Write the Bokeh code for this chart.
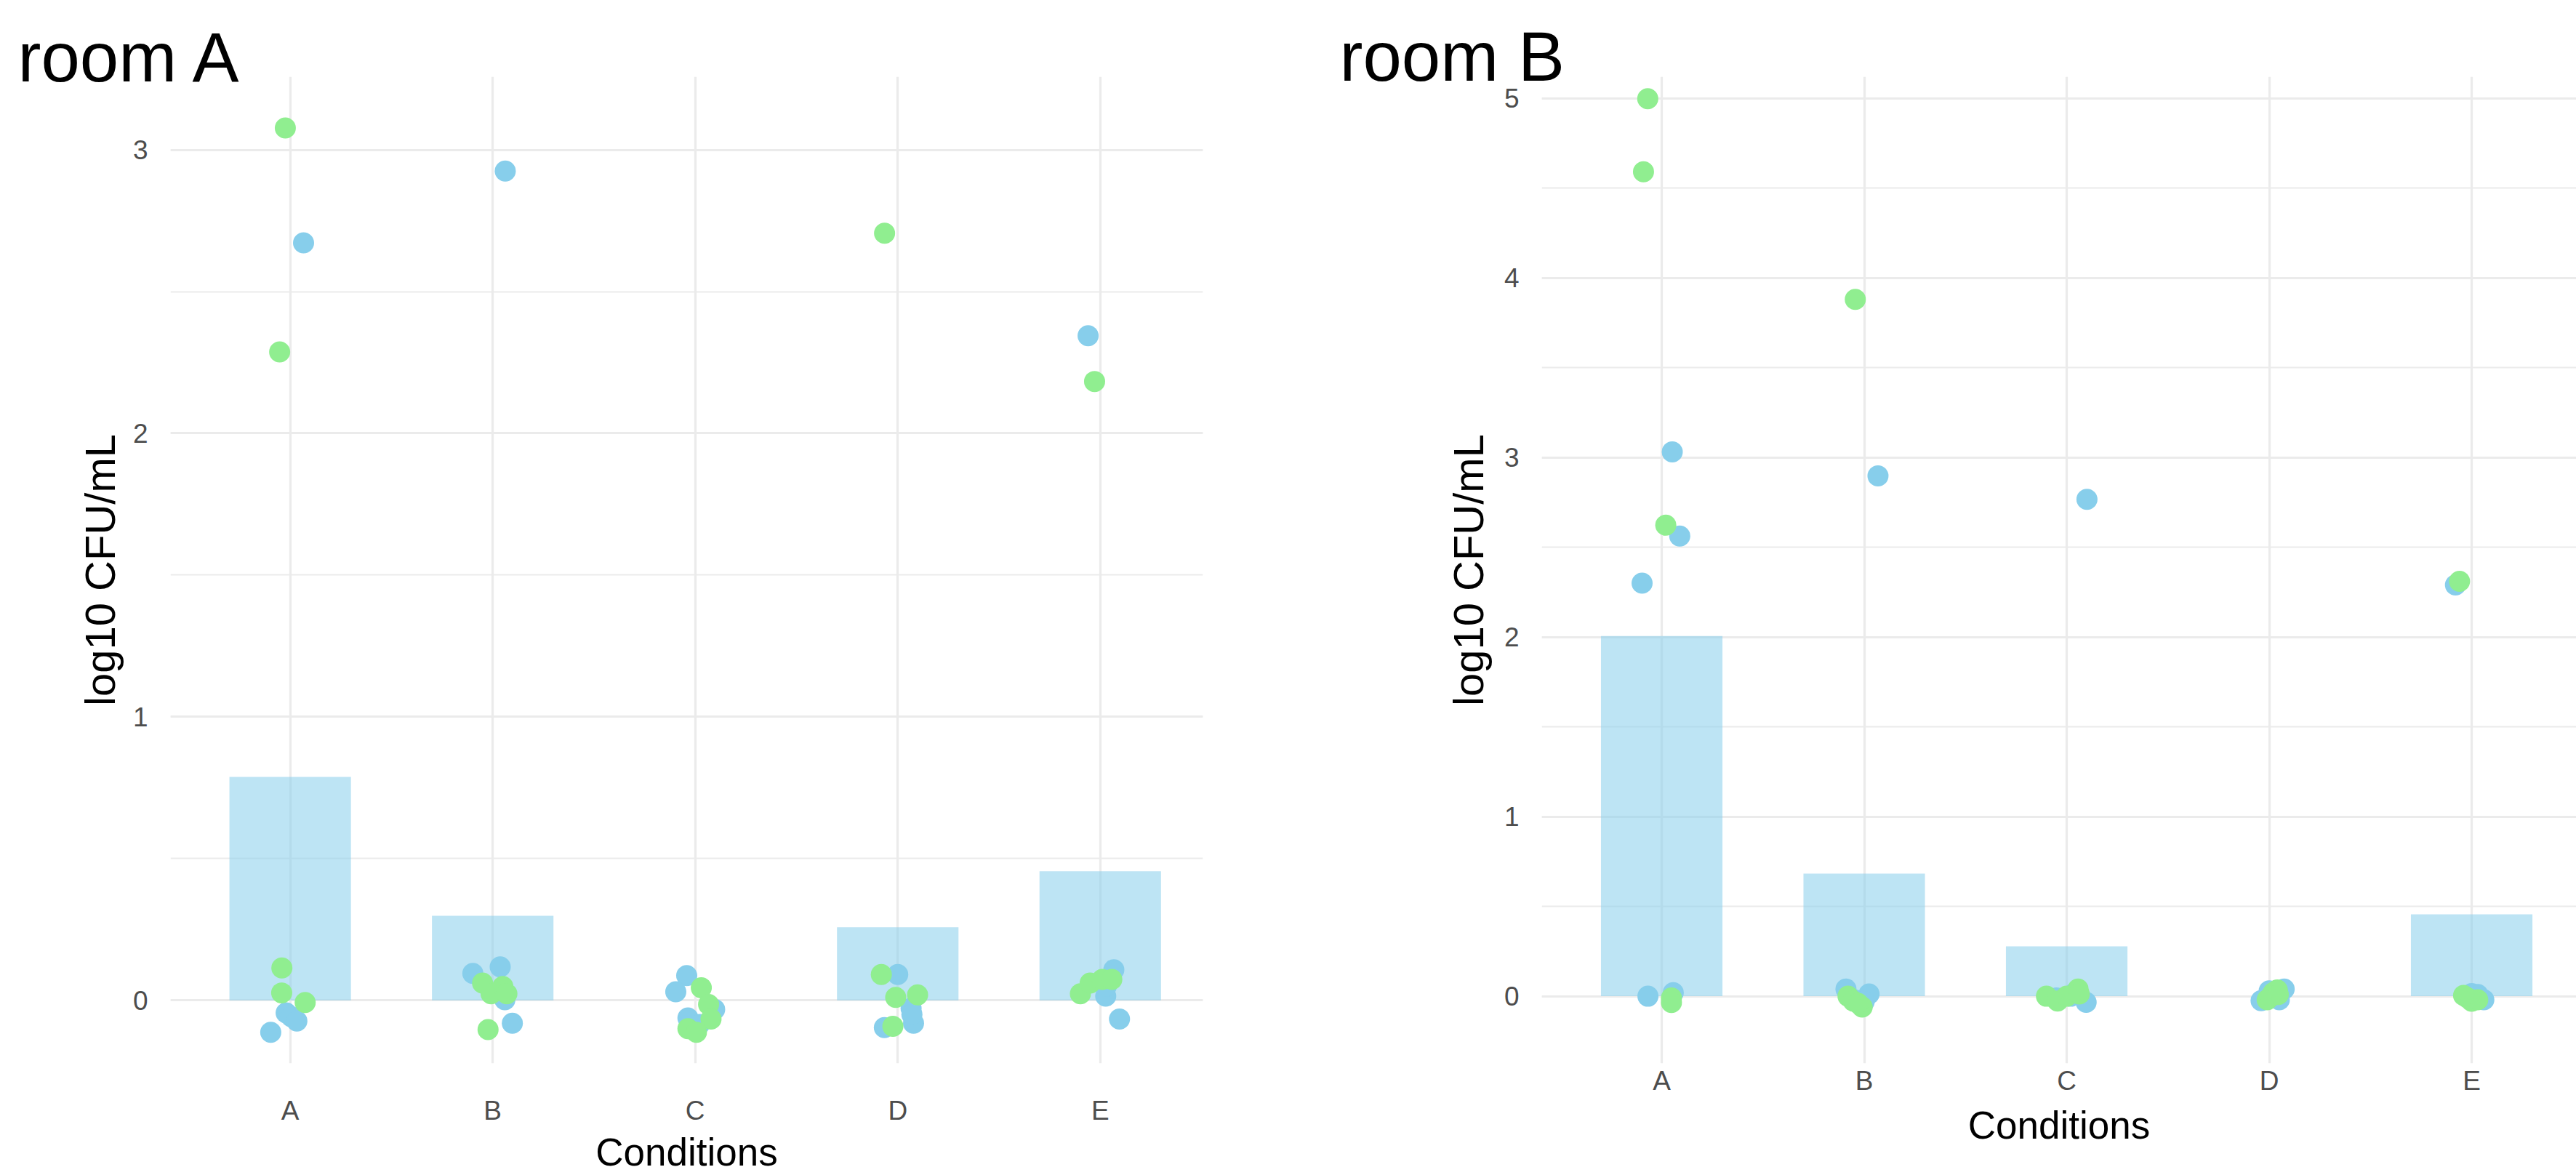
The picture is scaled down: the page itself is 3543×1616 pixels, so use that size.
from bokeh.plotting import figure
from bokeh.models import Range1d, FixedTicker, SingleIntervalTicker, Title
from bokeh.layouts import row
from bokeh.embed import file_html
from bokeh.resources import INLINE

categories = ["A", "B", "C", "D", "E"]
point_cond = ["A"] * 5 + ["B"] * 5 + ["C"] * 5 + ["D"] * 5 + ["E"] * 5

# ---------------- room A ----------------
roomA_bar = [0.788, 0.298, 0.0, 0.258, 0.455]
roomA_blue_jit = [0.066, -0.02, 0.005, 0.033, -0.096,
                  0.062, -0.098, 0.037, 0.06, 0.097,
                  -0.042, -0.096, 0.096, -0.036, 0.02,
                  0.0, 0.066, 0.078, -0.066, 0.07,
                  -0.06, 0.067, 0.027, 0.095, 0.03]
roomA_blue_val = [2.672, -0.044, -0.058, -0.073, -0.113,
                  2.925, 0.095, 0.118, 0.002, -0.081,
                  0.087, 0.03, -0.032, -0.062, -0.085,
                  0.091, -0.028, -0.081, -0.096, -0.05,
                  2.344, 0.108, 0.015, -0.066, 0.05]
roomA_green_jit = [-0.024, -0.052, -0.041, -0.042, 0.074,
                   -0.05, -0.008, 0.05, 0.07, -0.023,
                   0.03, 0.066, 0.078, -0.036, 0.006,
                   -0.065, -0.081, -0.01, 0.098, -0.024,
                   -0.028, -0.098, -0.05, 0.01, 0.057]
roomA_green_val = [3.077, 2.287, 0.114, 0.026, -0.008,
                   0.061, 0.023, 0.049, 0.023, -0.103,
                   0.044, -0.015, -0.066, -0.1, -0.113,
                   2.706, 0.091, 0.01, 0.019, -0.092,
                   2.183, 0.023, 0.061, 0.074, 0.074]

# ---------------- room B ----------------
roomB_bar = [2.006, 0.683, 0.278, 0.0, 0.456]
roomB_blue_jit = [0.052, 0.089, -0.097, -0.068, 0.057,
                  0.068, -0.09, 0.024, -0.05, 0.0,
                  0.1, 0.096, -0.05, 0.02, 0.04,
                  -0.04, 0.074, 0.03, 0.0, 0.05,
                  -0.08, 0.0, 0.06, -0.03, 0.03]
roomB_blue_val = [3.031, 2.562, 2.30, 0.0, 0.02,
                  2.897, 0.04, 0.013, -0.02, -0.03,
                  2.767, -0.034, -0.01, 0.0, 0.02,
                  -0.025, 0.04, 0.0, 0.03, -0.02,
                  2.29, 0.015, -0.02, 0.0, 0.01]
roomB_green_jit = [-0.069, -0.09, 0.02, 0.048, 0.048,
                   -0.044, -0.08, -0.054, -0.01, -0.03,
                   -0.1, -0.045, 0.0, 0.056, 0.062,
                   0.02, -0.01, 0.04, 0.01, 0.045,
                   -0.06, -0.02, 0.0, 0.03, -0.04]
roomB_green_val = [4.998, 4.591, 2.623, -0.01, -0.035,
                   3.88, 0.0, -0.027, -0.06, -0.04,
                   0.0, -0.027, 0.0, 0.04, 0.013,
                   0.02, -0.02, 0.035, 0.0, 0.01,
                   2.31, -0.01, -0.028, -0.02, 0.005]

BLUE = "#87CEEB"
GREEN = "#90EE90"
GRID = "#EBEBEB"
FONT = "Liberation Sans"


def make_panel(title, bars, bj, bv, gj, gv, xr, yr, size, borders,
               title_offset, title_standoff, ylabel_standoff,
               xlabel_standoff, xtitle_standoff):
    bl, br, bt, bb = borders
    p = figure(x_range=Range1d(*xr), y_range=Range1d(*yr),
               width=size[0], height=size[1],
               min_border_left=bl, min_border_right=br,
               min_border_top=bt, min_border_bottom=bb,
               output_backend="svg", toolbar_location=None, align="start")
    p.background_fill_color = "white"
    p.border_fill_color = "white"
    p.outline_line_color = None

    pos = [i + 1 for i in range(len(categories))]
    p.vbar(x=pos, top=bars, bottom=0, width=0.6, fill_color=BLUE,
           fill_alpha=0.55, line_color=None)

    xb = [categories.index(c) + 1 + j for c, j in zip(point_cond, bj)]
    xg = [categories.index(c) + 1 + j for c, j in zip(point_cond, gj)]
    p.scatter(x=xb, y=bv, size=29, fill_color=BLUE, line_color=None)
    p.scatter(x=xg, y=gv, size=29, fill_color=GREEN, line_color=None)

    # axes
    p.xaxis.ticker = FixedTicker(ticks=pos)
    p.xaxis.major_label_overrides = {i + 1: c for i, c in enumerate(categories)}
    yt = SingleIntervalTicker(interval=1, num_minor_ticks=2)
    p.yaxis.ticker = yt
    p.ygrid.ticker = yt
    for ax in (p.xaxis, p.yaxis):
        ax.axis_line_color = None
        ax.major_tick_line_color = None
        ax.minor_tick_line_color = None
        ax.major_tick_out = 0
        ax.major_tick_in = 0
        ax.minor_tick_out = 0
        ax.minor_tick_in = 0
        ax.major_label_text_font = FONT
        ax.major_label_text_font_size = "37px"
        ax.major_label_text_color = "#4D4D4D"
        ax.axis_label_text_font = FONT
        ax.axis_label_text_font_style = "normal"
        ax.axis_label_text_color = "black"
    p.xaxis.major_label_standoff = xlabel_standoff
    p.xaxis.axis_label = "Conditions"
    p.xaxis.axis_label_text_font_size = "53px"
    p.xaxis.axis_label_standoff = xtitle_standoff
    p.yaxis.major_label_standoff = 31
    p.yaxis.axis_label = "log10 CFU/mL"
    p.yaxis.axis_label_text_font_size = "58px"
    p.yaxis.axis_label_standoff = ylabel_standoff

    # grid
    p.xgrid.grid_line_color = GRID
    p.xgrid.grid_line_width = 3.2
    p.ygrid.grid_line_color = GRID
    p.ygrid.grid_line_width = 3.2
    p.ygrid.minor_grid_line_color = GRID
    p.ygrid.minor_grid_line_width = 2.2

    # panel title
    p.add_layout(Title(text=title, align="left", offset=title_offset,
                       standoff=title_standoff, text_font=FONT,
                       text_font_size="96px", text_font_style="normal",
                       text_color="black"), "above")
    return p


# both panels share the same frame top/bottom (row aligns plot frames)
p1 = make_panel("room A", roomA_bar, roomA_blue_jit, roomA_blue_val,
                roomA_green_jit, roomA_green_val,
                xr=(0.409, 5.507), yr=(-0.2225, 3.258),
                size=(1772, 1616), borders=(234, 118, 105, 150),
                title_offset=-210, title_standoff=-52,
                ylabel_standoff=10, xlabel_standoff=44, xtitle_standoff=4)

p2 = make_panel("room B", roomB_bar, roomB_blue_jit, roomB_blue_val,
                roomB_green_jit, roomB_green_val,
                xr=(0.4075, 5.517), yr=(-0.374, 5.120),
                size=(1771, 1616), borders=(348, 0, 105, 150),
                title_offset=-278, title_standoff=-50,
                ylabel_standoff=14, xlabel_standoff=3, xtitle_standoff=8)

layout = row(p1, p2, spacing=0)
open("out.html", "w").write(file_html(layout, INLINE))
